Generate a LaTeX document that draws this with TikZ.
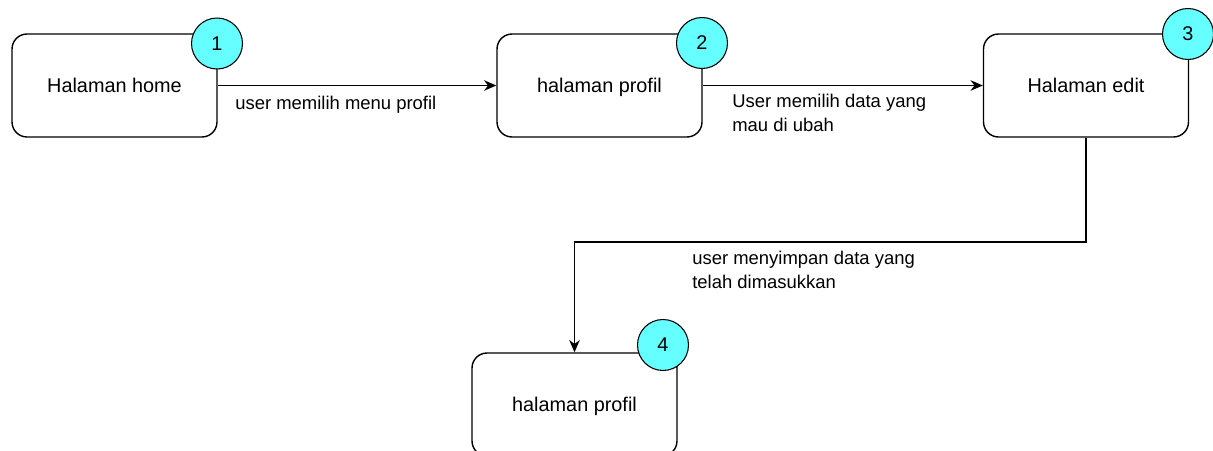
\documentclass[tikz,border=0pt]{standalone}
\usepackage{fontspec}
\setmainfont{Liberation Sans}
\usetikzlibrary{arrows.meta,positioning}
\definecolor{stepcyan}{RGB}{102,255,255}
\tikzset{
  page/.style={draw=black, line width=0.8pt, rounded corners=0.3cm, minimum width=4.1cm, minimum height=2.06cm, text height=1.5ex, text depth=0.1ex, font=\fontsize{11.3}{13}\selectfont},
  nomor/.style={circle, draw=black, line width=0.6pt, fill=stepcyan, minimum size=1.02cm, inner sep=0pt, font=\fontsize{11.3}{13}\selectfont},
  alur/.style={draw=black, line width=0.8pt, -{Stealth[length=7pt, width=6pt]}},
  ket/.style={anchor=west, inner sep=0pt, align=left, font=\fontsize{10.5}{13.6}\selectfont}
}

\begin{document}
\begin{tikzpicture}[x=0.02cm, y=-0.02cm]
			%%%%% START %%%%%
			\useasboundingbox (0, 0) rectangle (1213, 450);
			
			\node[page] (home) at (114.5, 85.5) {Halaman home};
			\node[page] (profil) at (599.5, 85.5) {halaman profil};
			\node[page] (edit) at (1086, 85.5) {Halaman edit};
			\node[page] (profilb) at (574.5, 404.5) {halaman profil};
			
			\node[nomor] (n1) at (217, 43.5) {1};
			\node[nomor] (n2) at (702, 43) {2};
			\node[nomor] (n3) at (1188, 34) {3};
			\node[nomor] (n4) at (663, 345) {4};
			
			\coordinate (belok) at (1086, 242);
			
			\draw[alur] (home.east) -- (profil.west);
			\draw[alur] (profil.east) -- (edit.west);
			\draw[alur] (edit.south) -- (belok) -| (profilb.north);
			
			\node[ket] (k1) at (235, 105) {user memilih menu profil};
			\node[ket] (k2) at (732, 113) {User memilih data yang\\mau di ubah};
			\node[ket] (k3) at (692, 270) {user menyimpan data yang\\telah dimasukkan};
			%%%%% END %%%%%
\end{tikzpicture}
\end{document}
